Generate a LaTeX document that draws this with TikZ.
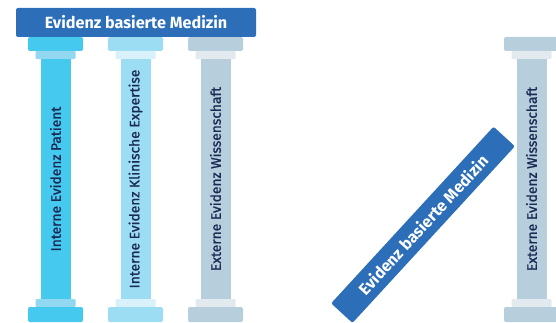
\documentclass[tikz,border=0pt]{standalone}
\usepackage{fontspec}
\setmainfont{Fira Sans}
\newfontfamily\medfont[FakeBold=1.2]{Fira Sans}
\definecolor{bannerblue}{HTML}{2C6EB8}
\definecolor{txtnavy}{HTML}{1B2A55}
\definecolor{pa}{HTML}{45C9EF}
\definecolor{pal}{HTML}{92D8F1}
\definecolor{pb}{HTML}{9CDDF4}
\definecolor{pbl}{HTML}{D8F1FA}
\definecolor{pc}{HTML}{B7CEDC}
\definecolor{pcl}{HTML}{E2E9EF}
\tikzset{
  banner/.style={fill=bannerblue, rounded corners=2pt, minimum width=240pt, minimum height=29pt,
    inner sep=0pt, text=white, font=\fontsize{16.2}{18}\selectfont\bfseries},
  ptext/.style={text=txtnavy, inner sep=0pt, font=\medfont\fontsize{13.8}{15}\selectfont, rotate=90},
}
\newcommand\mypillar[5]{%
  \fill[#2, rounded corners=2pt] (#1-27.5,37) rectangle (#1+27.5,51);
  \fill[#3, rounded corners=1pt] (#1-20,51) rectangle (#1+20,59);
  \fill[#2] (#1-15,59) rectangle (#1+15,299);
  \fill[#3, rounded corners=1pt] (#1-20,299) rectangle (#1+20,307);
  \fill[#2, rounded corners=2pt] (#1-27.5,307) rectangle (#1+27.5,322);
  \node[ptext] (#5) at (#1,179) {#4};
}
\begin{document}
\begin{tikzpicture}[x=1pt, y=-1pt]
  \useasboundingbox (0,0) rectangle (556,323);
  \clip (0,0) rectangle (556,323);
  \mypillar{55.5}{pa}{pal}{Interne Evidenz Patient}{p1}
  \mypillar{135.5}{pb}{pbl}{Interne Evidenz Klinische Expertise}{p2}
  \mypillar{215.5}{pc}{pcl}{Externe Evidenz Wissenschaft}{p3}
  \node[banner] (top) at (136,22.5) {Evidenz basierte Medizin};
  \mypillar{531.5}{pc}{pcl}{Externe Evidenz Wissenschaft}{p4}
  \node[banner, rotate=47.4] (tilt) at (423,224.8) {Evidenz basierte Medizin};
\end{tikzpicture}
\end{document}
